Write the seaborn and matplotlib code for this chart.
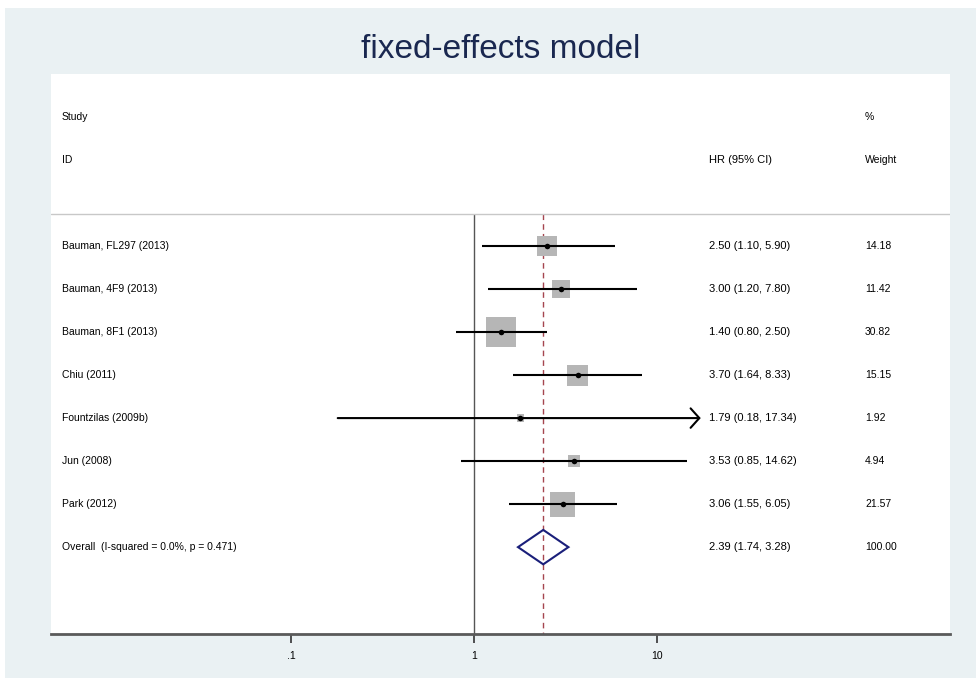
import numpy as np
import pandas as pd
import matplotlib
matplotlib.use("Agg")
import matplotlib.pyplot as plt
import seaborn as sns
from matplotlib.patches import Polygon, Rectangle
from matplotlib.ticker import NullLocator

# study-level data (hazard ratios, 95% CI, % weight)
studies = ["Bauman, FL297 (2013)", "Bauman, 4F9 (2013)", "Bauman, 8F1 (2013)",
           "Chiu (2011)", "Fountzilas (2009b)", "Jun (2008)", "Park (2012)"]
hr = [2.50, 3.00, 1.40, 3.70, 1.79, 3.53, 3.06]
ci_low = [1.10, 1.20, 0.80, 1.64, 0.18, 0.85, 1.55]
ci_high = [5.90, 7.80, 2.50, 8.33, 17.34, 14.62, 6.05]
weights = [14.18, 11.42, 30.82, 15.15, 1.92, 4.94, 21.57]

overall_label = "Overall  (I-squared = 0.0%, p = 0.471)"
overall_hr = 2.39
overall_low = 1.74
overall_high = 3.28
overall_weight = 100.00

tick_vals = [0.1, 1, 10]
tick_labels = [".1", "1", "10"]

df = pd.DataFrame({"study": studies, "hr": hr, "lo": ci_low, "hi": ci_high, "w": weights})
df["row"] = np.arange(len(df))
overall_row = len(df)

sns.set_style("white")
plt.rcParams["font.family"] = ["Liberation Sans", "DejaVu Sans"]

fig = plt.figure(figsize=(9.76, 6.78), dpi=100)
fig.patch.set_facecolor("white")
fig.add_artist(Rectangle((5 / 976, 0), 1, 1 - 8 / 678, transform=fig.transFigure,
                         facecolor="#EAF1F3", edgecolor="none", zorder=-10))
ax = fig.add_axes([51 / 976, 1 - 634 / 678, 899 / 976, 560 / 678])
ax.set_facecolor("white")
ax.set_xscale("log")

# weight boxes (area proportional to weight)
sns.scatterplot(data=df, x="hr", y="row", size="w", sizes=(0, 466), size_norm=(0, max(weights)),
                marker="s", color="#B6B6B6", linewidth=0, legend=False, ax=ax, zorder=2)

# confidence intervals
for _, r in df.iterrows():
    if r["hi"] > 15:
        ax.annotate("", xy=(r["hi"], r["row"]), xytext=(r["lo"], r["row"]),
                    arrowprops=dict(arrowstyle="->, head_length=0.45, head_width=0.5",
                                    lw=1.5, color="black", shrinkA=0, shrinkB=0,
                                    mutation_scale=14), zorder=3)
    else:
        ax.hlines(r["row"], r["lo"], r["hi"], color="black", lw=1.5, zorder=3)

sns.scatterplot(data=df, x="hr", y="row", s=16, color="black", linewidth=0,
                legend=False, ax=ax, zorder=4)

# reference lines
line_top = -0.744
ax.vlines(1, line_top, 9.1, color="#555555", lw=1.0, zorder=1)
ax.vlines(overall_hr, line_top, 9.1, color="#A5454F", lw=1.0, linestyles=(0, (4, 3)), zorder=1)
ax.axhline(line_top, color="#C8C8C8", lw=1.0, zorder=1)

# overall diamond
diamond = Polygon([(overall_low, overall_row), (overall_hr, overall_row - 0.4),
                   (overall_high, overall_row), (overall_hr, overall_row + 0.4)],
                  closed=True, fill=False, edgecolor="#1A1F7A", lw=1.5, zorder=5)
ax.add_patch(diamond)

# text columns
trans = ax.get_yaxis_transform()
fs = 7.5
fs_hr = 8.0
x_study, x_hr, x_w = 0.0122, 0.732, 0.9055
txt = dict(transform=trans, va="center", color="black")
ax.text(x_study, -3, "Study", fontsize=fs, **txt)
ax.text(x_study, -2, "ID", fontsize=fs, **txt)
ax.text(x_hr, -2, "HR (95% CI)", fontsize=fs_hr, **txt)
ax.text(x_w, -3, "%", fontsize=fs, **txt)
ax.text(x_w, -2, "Weight", fontsize=fs, **txt)
for _, r in df.iterrows():
    ax.text(x_study, r["row"], r["study"], fontsize=fs, **txt)
    ax.text(x_hr, r["row"], f"{r['hr']:.2f} ({r['lo']:.2f}, {r['hi']:.2f})",
            fontsize=fs_hr, **txt)
    ax.text(x_w, r["row"], f"{r['w']:.2f}", fontsize=fs, **txt)
ax.text(x_study, overall_row, overall_label, fontsize=fs, **txt)
ax.text(x_hr, overall_row, f"{overall_hr:.2f} ({overall_low:.2f}, {overall_high:.2f})",
        fontsize=fs_hr, **txt)
ax.text(x_w, overall_row, f"{overall_weight:.2f}", fontsize=fs, **txt)

# axes
ax.set_xlim(10 ** ((51 - 474) / 183), 10 ** ((950 - 474) / 183))
ax.set_ylim(9.02, -4.0)
ax.set_xticks(tick_vals)
ax.set_xticklabels(tick_labels, fontsize=fs, color="black")
ax.xaxis.set_minor_locator(NullLocator())
ax.set_yticks([])
ax.set_xlabel("")
ax.set_ylabel("")
ax.tick_params(axis="x", bottom=True, direction="out", length=6.5, width=1.2,
               color="#333333", pad=6)
for side in ["top", "left", "right"]:
    ax.spines[side].set_visible(False)
ax.spines["bottom"].set_color("#5A5A5A")
ax.spines["bottom"].set_linewidth(2)

fig.text(500.5 / 976, 1 - 50 / 678, "fixed-effects model", ha="center", va="center",
         fontsize=24, color="#1A2850")

fig.savefig("out.png", dpi=100)
